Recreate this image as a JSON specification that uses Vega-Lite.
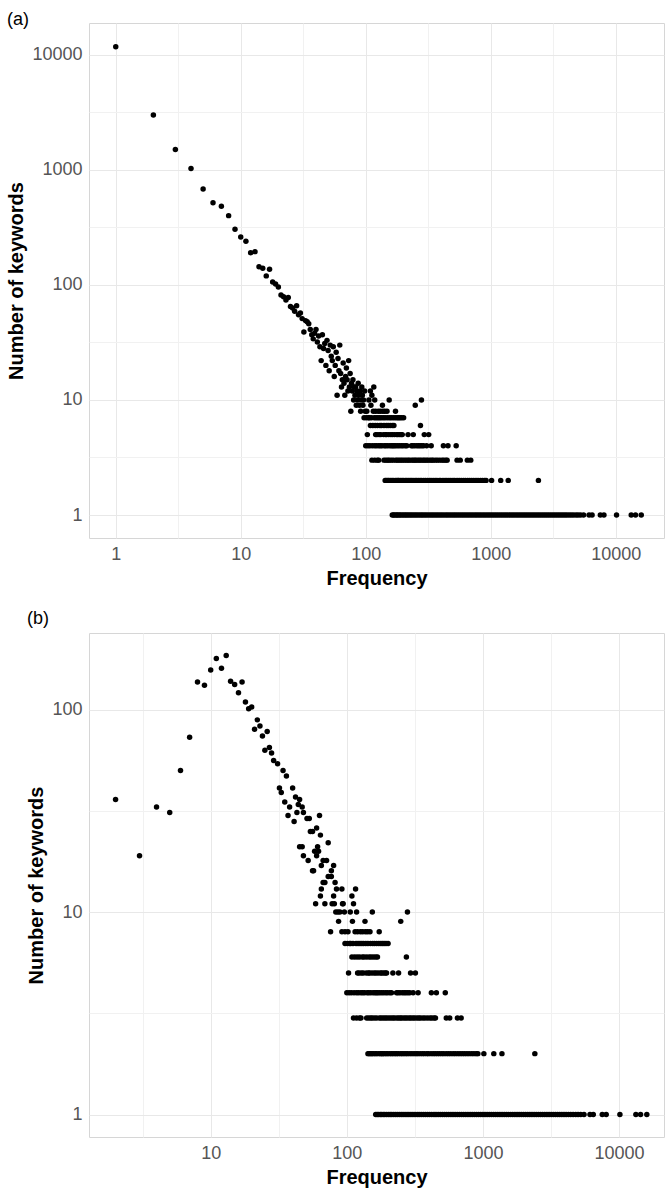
{
  "$schema": "https://vega.github.io/schema/vega-lite/v6.json",
  "background": "white",
  "padding": {"left": 6, "top": 10, "right": 1, "bottom": 2},
  "spacing": 20,
  "config": {
    "view": {"stroke": "#d6d6d6", "strokeWidth": 1},
    "font": "Liberation Sans",
    "axis": {
      "ticks": false,
      "domain": false,
      "labelFont": "Liberation Sans",
      "labelFontSize": 18,
      "labelColor": "#555555",
      "titleFont": "Liberation Sans",
      "titleFontSize": 20,
      "titleFontWeight": "bold",
      "titleColor": "black",
      "labelPadding": 7,
      "titlePadding": 5,
      "labelOverlap": false,
      "labelFlush": false,
      "gridWidth": 1
    },
    "title": {"anchor": "start", "frame": "bounds", "fontSize": 18, "fontWeight": "normal", "font": "Liberation Sans", "color": "black"}
  },
  "datasets": {
    "headA": [
      {"frequency": 1, "keywords": 11800}, {"frequency": 2, "keywords": 3010}, {"frequency": 3, "keywords": 1510}, {"frequency": 4, "keywords": 1030},
      {"frequency": 5, "keywords": 684}, {"frequency": 6, "keywords": 520}, {"frequency": 7, "keywords": 484}, {"frequency": 8, "keywords": 401},
      {"frequency": 9, "keywords": 305}, {"frequency": 10, "keywords": 261}, {"frequency": 11, "keywords": 240}, {"frequency": 12, "keywords": 191},
      {"frequency": 13, "keywords": 195}, {"frequency": 14, "keywords": 144}, {"frequency": 15, "keywords": 140}, {"frequency": 16, "keywords": 120},
      {"frequency": 17, "keywords": 137}, {"frequency": 18, "keywords": 106}, {"frequency": 19, "keywords": 102}, {"frequency": 20, "keywords": 96},
      {"frequency": 21, "keywords": 82}, {"frequency": 22, "keywords": 79}, {"frequency": 23, "keywords": 74}, {"frequency": 24, "keywords": 78},
      {"frequency": 25, "keywords": 65}, {"frequency": 26, "keywords": 63}, {"frequency": 27, "keywords": 59}, {"frequency": 28, "keywords": 66},
      {"frequency": 29, "keywords": 55}, {"frequency": 30, "keywords": 57}, {"frequency": 31, "keywords": 51}, {"frequency": 32, "keywords": 39},
      {"frequency": 33, "keywords": 49}, {"frequency": 34, "keywords": 48}, {"frequency": 35, "keywords": 46}, {"frequency": 36, "keywords": 41},
      {"frequency": 37, "keywords": 37}, {"frequency": 38, "keywords": 34}, {"frequency": 39, "keywords": 38}, {"frequency": 40, "keywords": 41},
      {"frequency": 41, "keywords": 32}, {"frequency": 42, "keywords": 36}, {"frequency": 43, "keywords": 29}, {"frequency": 44, "keywords": 22},
      {"frequency": 45, "keywords": 37}, {"frequency": 46, "keywords": 28}, {"frequency": 47, "keywords": 31}, {"frequency": 48, "keywords": 20},
      {"frequency": 49, "keywords": 33}, {"frequency": 50, "keywords": 27}, {"frequency": 51, "keywords": 18}, {"frequency": 52, "keywords": 30},
      {"frequency": 53, "keywords": 24}, {"frequency": 54, "keywords": 22}, {"frequency": 55, "keywords": 29}, {"frequency": 56, "keywords": 16},
      {"frequency": 57, "keywords": 20}, {"frequency": 58, "keywords": 26}, {"frequency": 59, "keywords": 11}, {"frequency": 60, "keywords": 23},
      {"frequency": 61, "keywords": 18}, {"frequency": 62, "keywords": 30}, {"frequency": 63, "keywords": 17}, {"frequency": 64, "keywords": 13},
      {"frequency": 65, "keywords": 15}, {"frequency": 66, "keywords": 21}, {"frequency": 67, "keywords": 14}, {"frequency": 68, "keywords": 11},
      {"frequency": 69, "keywords": 16}, {"frequency": 70, "keywords": 19}, {"frequency": 71, "keywords": 15}, {"frequency": 72, "keywords": 12},
      {"frequency": 73, "keywords": 22}, {"frequency": 74, "keywords": 13}, {"frequency": 75, "keywords": 17}, {"frequency": 76, "keywords": 8},
      {"frequency": 77, "keywords": 14}, {"frequency": 78, "keywords": 12}, {"frequency": 79, "keywords": 15}, {"frequency": 80, "keywords": 10},
      {"frequency": 81, "keywords": 13}, {"frequency": 82, "keywords": 11}, {"frequency": 83, "keywords": 13}, {"frequency": 84, "keywords": 9},
      {"frequency": 85, "keywords": 12}, {"frequency": 86, "keywords": 10}, {"frequency": 87, "keywords": 14}, {"frequency": 88, "keywords": 11},
      {"frequency": 89, "keywords": 9}, {"frequency": 90, "keywords": 12}, {"frequency": 91, "keywords": 8}, {"frequency": 92, "keywords": 10},
      {"frequency": 93, "keywords": 13}, {"frequency": 94, "keywords": 11}, {"frequency": 95, "keywords": 9}, {"frequency": 96, "keywords": 10},
      {"frequency": 97, "keywords": 7}, {"frequency": 98, "keywords": 12}, {"frequency": 99, "keywords": 8}
    ],
    "headB": [
      {"frequency": 2, "keywords": 36}, {"frequency": 3, "keywords": 19}, {"frequency": 4, "keywords": 33}, {"frequency": 5, "keywords": 31},
      {"frequency": 6, "keywords": 50}, {"frequency": 7, "keywords": 73}, {"frequency": 8, "keywords": 137}, {"frequency": 9, "keywords": 132},
      {"frequency": 10, "keywords": 157}, {"frequency": 11, "keywords": 179}, {"frequency": 12, "keywords": 160}, {"frequency": 13, "keywords": 185},
      {"frequency": 14, "keywords": 138}, {"frequency": 15, "keywords": 133}, {"frequency": 16, "keywords": 121}, {"frequency": 17, "keywords": 137},
      {"frequency": 18, "keywords": 109}, {"frequency": 19, "keywords": 101}, {"frequency": 20, "keywords": 103}, {"frequency": 21, "keywords": 80},
      {"frequency": 22, "keywords": 89}, {"frequency": 23, "keywords": 83}, {"frequency": 24, "keywords": 74}, {"frequency": 25, "keywords": 63},
      {"frequency": 26, "keywords": 78}, {"frequency": 27, "keywords": 65}, {"frequency": 28, "keywords": 61}, {"frequency": 29, "keywords": 56},
      {"frequency": 31, "keywords": 54}, {"frequency": 32, "keywords": 41}, {"frequency": 33, "keywords": 39}, {"frequency": 34, "keywords": 50},
      {"frequency": 35, "keywords": 35}, {"frequency": 36, "keywords": 47}, {"frequency": 37, "keywords": 30}, {"frequency": 38, "keywords": 33},
      {"frequency": 40, "keywords": 41}, {"frequency": 41, "keywords": 28}, {"frequency": 42, "keywords": 37}, {"frequency": 43, "keywords": 31},
      {"frequency": 44, "keywords": 34}, {"frequency": 45, "keywords": 36}, {"frequency": 45, "keywords": 21}, {"frequency": 47, "keywords": 33},
      {"frequency": 47, "keywords": 21}, {"frequency": 48, "keywords": 31}, {"frequency": 48, "keywords": 19}, {"frequency": 51, "keywords": 29},
      {"frequency": 52, "keywords": 18}, {"frequency": 53, "keywords": 29}, {"frequency": 54, "keywords": 25}, {"frequency": 56, "keywords": 25},
      {"frequency": 56, "keywords": 16}, {"frequency": 57, "keywords": 16}, {"frequency": 58, "keywords": 20}, {"frequency": 59, "keywords": 11},
      {"frequency": 60, "keywords": 26}, {"frequency": 60, "keywords": 19}, {"frequency": 61, "keywords": 21}, {"frequency": 62, "keywords": 20},
      {"frequency": 63, "keywords": 30}, {"frequency": 64, "keywords": 24}, {"frequency": 64, "keywords": 12}, {"frequency": 65, "keywords": 17},
      {"frequency": 65, "keywords": 13}, {"frequency": 67, "keywords": 18}, {"frequency": 67, "keywords": 14}, {"frequency": 69, "keywords": 14},
      {"frequency": 69, "keywords": 11}, {"frequency": 71, "keywords": 18}, {"frequency": 73, "keywords": 22}, {"frequency": 73, "keywords": 15},
      {"frequency": 76, "keywords": 8}, {"frequency": 77, "keywords": 16}, {"frequency": 77, "keywords": 15}, {"frequency": 78, "keywords": 11},
      {"frequency": 80, "keywords": 17}, {"frequency": 80, "keywords": 12}, {"frequency": 81, "keywords": 11}, {"frequency": 82, "keywords": 14},
      {"frequency": 83, "keywords": 10}, {"frequency": 84, "keywords": 13}, {"frequency": 86, "keywords": 10}, {"frequency": 87, "keywords": 9},
      {"frequency": 89, "keywords": 10}, {"frequency": 92, "keywords": 13}, {"frequency": 92, "keywords": 8}, {"frequency": 93, "keywords": 11},
      {"frequency": 94, "keywords": 11}, {"frequency": 96, "keywords": 10}, {"frequency": 97, "keywords": 8}, {"frequency": 97, "keywords": 7}
    ],
    "tail": [
      {"frequency": 116, "keywords": 13}, {"frequency": 109, "keywords": 12}, {"frequency": 112, "keywords": 11},
      {"frequency": 106, "keywords": 10}, {"frequency": 118, "keywords": 10}, {"frequency": 154, "keywords": 10}, {"frequency": 279, "keywords": 10},
      {"frequency": 110, "keywords": 9}, {"frequency": 136, "keywords": 9}, {"frequency": 249, "keywords": 9},
      {"frequency": 102, "keywords": 8}, {"frequency": 115, "keywords": 8}, {"frequency": 120, "keywords": 8}, {"frequency": 126, "keywords": 8},
      {"frequency": 131, "keywords": 8}, {"frequency": 137, "keywords": 8}, {"frequency": 142, "keywords": 8}, {"frequency": 148, "keywords": 8}, {"frequency": 173, "keywords": 8},
      {"frequency": 101, "keywords": 7}, {"frequency": 105, "keywords": 7}, {"frequency": 107, "keywords": 7}, {"frequency": 111, "keywords": 7},
      {"frequency": 117, "keywords": 7}, {"frequency": 121, "keywords": 7}, {"frequency": 125, "keywords": 7}, {"frequency": 129, "keywords": 7},
      {"frequency": 133, "keywords": 7}, {"frequency": 138, "keywords": 7}, {"frequency": 143, "keywords": 7}, {"frequency": 149, "keywords": 7},
      {"frequency": 155, "keywords": 7}, {"frequency": 160, "keywords": 7}, {"frequency": 166, "keywords": 7}, {"frequency": 172, "keywords": 7},
      {"frequency": 178, "keywords": 7}, {"frequency": 183, "keywords": 7}, {"frequency": 188, "keywords": 7}, {"frequency": 194, "keywords": 7}, {"frequency": 201, "keywords": 7},
      {"frequency": 109, "keywords": 6}, {"frequency": 114, "keywords": 6}, {"frequency": 119, "keywords": 6}, {"frequency": 124, "keywords": 6},
      {"frequency": 130, "keywords": 6}, {"frequency": 134, "keywords": 6}, {"frequency": 140, "keywords": 6}, {"frequency": 146, "keywords": 6},
      {"frequency": 151, "keywords": 6}, {"frequency": 157, "keywords": 6}, {"frequency": 163, "keywords": 6}, {"frequency": 168, "keywords": 6}, {"frequency": 274, "keywords": 6},
      {"frequency": 103, "keywords": 5}, {"frequency": 120, "keywords": 5}, {"frequency": 123, "keywords": 5}, {"frequency": 128, "keywords": 5},
      {"frequency": 132, "keywords": 5}, {"frequency": 139, "keywords": 5}, {"frequency": 144, "keywords": 5}, {"frequency": 147, "keywords": 5},
      {"frequency": 153, "keywords": 5}, {"frequency": 159, "keywords": 5}, {"frequency": 164, "keywords": 5}, {"frequency": 170, "keywords": 5},
      {"frequency": 177, "keywords": 5}, {"frequency": 181, "keywords": 5}, {"frequency": 187, "keywords": 5}, {"frequency": 192, "keywords": 5},
      {"frequency": 196, "keywords": 5}, {"frequency": 218, "keywords": 5}, {"frequency": 240, "keywords": 5}, {"frequency": 294, "keywords": 5}, {"frequency": 319, "keywords": 5},
      {"frequency": 100, "keywords": 4}, {"frequency": 104, "keywords": 4}, {"frequency": 108, "keywords": 4}, {"frequency": 113, "keywords": 4},
      {"frequency": 118, "keywords": 4}, {"frequency": 122, "keywords": 4}, {"frequency": 127, "keywords": 4}, {"frequency": 131, "keywords": 4},
      {"frequency": 135, "keywords": 4}, {"frequency": 141, "keywords": 4}, {"frequency": 145, "keywords": 4}, {"frequency": 150, "keywords": 4},
      {"frequency": 156, "keywords": 4}, {"frequency": 161, "keywords": 4}, {"frequency": 165, "keywords": 4}, {"frequency": 169, "keywords": 4},
      {"frequency": 174, "keywords": 4}, {"frequency": 180, "keywords": 4}, {"frequency": 186, "keywords": 4}, {"frequency": 193, "keywords": 4},
      {"frequency": 199, "keywords": 4}, {"frequency": 207, "keywords": 4}, {"frequency": 213, "keywords": 4}, {"frequency": 232, "keywords": 4},
      {"frequency": 238, "keywords": 4}, {"frequency": 246, "keywords": 4}, {"frequency": 256, "keywords": 4}, {"frequency": 264, "keywords": 4},
      {"frequency": 272, "keywords": 4}, {"frequency": 281, "keywords": 4}, {"frequency": 290, "keywords": 4}, {"frequency": 307, "keywords": 4},
      {"frequency": 334, "keywords": 4}, {"frequency": 418, "keywords": 4}, {"frequency": 455, "keywords": 4}, {"frequency": 529, "keywords": 4},
      {"frequency": 112, "keywords": 3}, {"frequency": 118, "keywords": 3}, {"frequency": 124, "keywords": 3}, {"frequency": 127, "keywords": 3},
      {"frequency": 140, "keywords": 3}, {"frequency": 145, "keywords": 3}, {"frequency": 150, "keywords": 3}, {"frequency": 154, "keywords": 3},
      {"frequency": 160, "keywords": 3}, {"frequency": 166, "keywords": 3}, {"frequency": 174, "keywords": 3}, {"frequency": 179, "keywords": 3},
      {"frequency": 185, "keywords": 3}, {"frequency": 191, "keywords": 3}, {"frequency": 197, "keywords": 3}, {"frequency": 204, "keywords": 3},
      {"frequency": 211, "keywords": 3}, {"frequency": 218, "keywords": 3}, {"frequency": 224, "keywords": 3}, {"frequency": 233, "keywords": 3},
      {"frequency": 240, "keywords": 3}, {"frequency": 247, "keywords": 3}, {"frequency": 253, "keywords": 3}, {"frequency": 262, "keywords": 3},
      {"frequency": 270, "keywords": 3}, {"frequency": 278, "keywords": 3}, {"frequency": 288, "keywords": 3}, {"frequency": 296, "keywords": 3},
      {"frequency": 306, "keywords": 3}, {"frequency": 315, "keywords": 3}, {"frequency": 327, "keywords": 3}, {"frequency": 338, "keywords": 3},
      {"frequency": 347, "keywords": 3}, {"frequency": 362, "keywords": 3}, {"frequency": 375, "keywords": 3}, {"frequency": 391, "keywords": 3},
      {"frequency": 408, "keywords": 3}, {"frequency": 421, "keywords": 3}, {"frequency": 437, "keywords": 3}, {"frequency": 448, "keywords": 3},
      {"frequency": 538, "keywords": 3}, {"frequency": 570, "keywords": 3}, {"frequency": 650, "keywords": 3}, {"frequency": 692, "keywords": 3},
      {"frequency": 143, "keywords": 2}, {"frequency": 146, "keywords": 2}, {"frequency": 150, "keywords": 2}, {"frequency": 153, "keywords": 2},
      {"frequency": 157, "keywords": 2}, {"frequency": 162, "keywords": 2}, {"frequency": 166, "keywords": 2}, {"frequency": 172, "keywords": 2},
      {"frequency": 177, "keywords": 2}, {"frequency": 181, "keywords": 2}, {"frequency": 184, "keywords": 2}, {"frequency": 189, "keywords": 2},
      {"frequency": 195, "keywords": 2}, {"frequency": 200, "keywords": 2}, {"frequency": 207, "keywords": 2}, {"frequency": 213, "keywords": 2},
      {"frequency": 219, "keywords": 2}, {"frequency": 226, "keywords": 2}, {"frequency": 232, "keywords": 2}, {"frequency": 239, "keywords": 2},
      {"frequency": 248, "keywords": 2}, {"frequency": 255, "keywords": 2}, {"frequency": 263, "keywords": 2}, {"frequency": 272, "keywords": 2},
      {"frequency": 280, "keywords": 2}, {"frequency": 291, "keywords": 2}, {"frequency": 301, "keywords": 2}, {"frequency": 312, "keywords": 2},
      {"frequency": 323, "keywords": 2}, {"frequency": 333, "keywords": 2}, {"frequency": 346, "keywords": 2}, {"frequency": 359, "keywords": 2},
      {"frequency": 371, "keywords": 2}, {"frequency": 387, "keywords": 2}, {"frequency": 398, "keywords": 2}, {"frequency": 415, "keywords": 2},
      {"frequency": 431, "keywords": 2}, {"frequency": 446, "keywords": 2}, {"frequency": 463, "keywords": 2}, {"frequency": 480, "keywords": 2},
      {"frequency": 499, "keywords": 2}, {"frequency": 516, "keywords": 2}, {"frequency": 538, "keywords": 2}, {"frequency": 559, "keywords": 2},
      {"frequency": 581, "keywords": 2}, {"frequency": 605, "keywords": 2}, {"frequency": 627, "keywords": 2}, {"frequency": 654, "keywords": 2},
      {"frequency": 679, "keywords": 2}, {"frequency": 705, "keywords": 2}, {"frequency": 732, "keywords": 2}, {"frequency": 762, "keywords": 2},
      {"frequency": 792, "keywords": 2}, {"frequency": 827, "keywords": 2}, {"frequency": 859, "keywords": 2}, {"frequency": 894, "keywords": 2},
      {"frequency": 918, "keywords": 2}, {"frequency": 1016, "keywords": 2}, {"frequency": 1202, "keywords": 2}, {"frequency": 1380, "keywords": 2},
      {"frequency": 2407, "keywords": 2},
      {"frequency": 163, "keywords": 1}, {"frequency": 167, "keywords": 1}, {"frequency": 171, "keywords": 1}, {"frequency": 176, "keywords": 1},
      {"frequency": 180, "keywords": 1}, {"frequency": 185, "keywords": 1}, {"frequency": 190, "keywords": 1}, {"frequency": 196, "keywords": 1},
      {"frequency": 202, "keywords": 1}, {"frequency": 208, "keywords": 1}, {"frequency": 214, "keywords": 1}, {"frequency": 221, "keywords": 1},
      {"frequency": 228, "keywords": 1}, {"frequency": 235, "keywords": 1}, {"frequency": 243, "keywords": 1}, {"frequency": 251, "keywords": 1},
      {"frequency": 259, "keywords": 1}, {"frequency": 268, "keywords": 1}, {"frequency": 277, "keywords": 1}, {"frequency": 286, "keywords": 1},
      {"frequency": 296, "keywords": 1}, {"frequency": 306, "keywords": 1}, {"frequency": 317, "keywords": 1}, {"frequency": 329, "keywords": 1},
      {"frequency": 340, "keywords": 1}, {"frequency": 352, "keywords": 1}, {"frequency": 365, "keywords": 1}, {"frequency": 378, "keywords": 1},
      {"frequency": 392, "keywords": 1}, {"frequency": 406, "keywords": 1}, {"frequency": 421, "keywords": 1}, {"frequency": 437, "keywords": 1},
      {"frequency": 452, "keywords": 1}, {"frequency": 469, "keywords": 1}, {"frequency": 486, "keywords": 1}, {"frequency": 504, "keywords": 1},
      {"frequency": 522, "keywords": 1}, {"frequency": 541, "keywords": 1}, {"frequency": 561, "keywords": 1}, {"frequency": 582, "keywords": 1},
      {"frequency": 603, "keywords": 1}, {"frequency": 625, "keywords": 1}, {"frequency": 648, "keywords": 1}, {"frequency": 672, "keywords": 1},
      {"frequency": 697, "keywords": 1}, {"frequency": 722, "keywords": 1}, {"frequency": 749, "keywords": 1}, {"frequency": 776, "keywords": 1},
      {"frequency": 805, "keywords": 1}, {"frequency": 834, "keywords": 1}, {"frequency": 865, "keywords": 1}, {"frequency": 897, "keywords": 1},
      {"frequency": 930, "keywords": 1}, {"frequency": 964, "keywords": 1}, {"frequency": 999, "keywords": 1}, {"frequency": 1036, "keywords": 1},
      {"frequency": 1074, "keywords": 1}, {"frequency": 1113, "keywords": 1}, {"frequency": 1154, "keywords": 1}, {"frequency": 1197, "keywords": 1},
      {"frequency": 1241, "keywords": 1}, {"frequency": 1287, "keywords": 1}, {"frequency": 1334, "keywords": 1}, {"frequency": 1383, "keywords": 1},
      {"frequency": 1434, "keywords": 1}, {"frequency": 1487, "keywords": 1}, {"frequency": 1541, "keywords": 1}, {"frequency": 1598, "keywords": 1},
      {"frequency": 1657, "keywords": 1}, {"frequency": 1718, "keywords": 1}, {"frequency": 1781, "keywords": 1}, {"frequency": 1846, "keywords": 1},
      {"frequency": 1914, "keywords": 1}, {"frequency": 1985, "keywords": 1}, {"frequency": 2058, "keywords": 1}, {"frequency": 2134, "keywords": 1},
      {"frequency": 2212, "keywords": 1}, {"frequency": 2293, "keywords": 1}, {"frequency": 2378, "keywords": 1}, {"frequency": 2465, "keywords": 1},
      {"frequency": 2556, "keywords": 1}, {"frequency": 2650, "keywords": 1}, {"frequency": 2747, "keywords": 1}, {"frequency": 2848, "keywords": 1},
      {"frequency": 2953, "keywords": 1}, {"frequency": 3061, "keywords": 1}, {"frequency": 3174, "keywords": 1}, {"frequency": 3290, "keywords": 1},
      {"frequency": 3411, "keywords": 1}, {"frequency": 3537, "keywords": 1}, {"frequency": 3667, "keywords": 1}, {"frequency": 3801, "keywords": 1},
      {"frequency": 3941, "keywords": 1}, {"frequency": 4086, "keywords": 1}, {"frequency": 4250, "keywords": 1}, {"frequency": 4420, "keywords": 1},
      {"frequency": 4600, "keywords": 1}, {"frequency": 4810, "keywords": 1}, {"frequency": 5000, "keywords": 1}, {"frequency": 5230, "keywords": 1},
      {"frequency": 5530, "keywords": 1}, {"frequency": 6120, "keywords": 1}, {"frequency": 6470, "keywords": 1}, {"frequency": 7530, "keywords": 1},
      {"frequency": 8050, "keywords": 1}, {"frequency": 10150, "keywords": 1}, {"frequency": 13300, "keywords": 1}, {"frequency": 14400, "keywords": 1},
      {"frequency": 16000, "keywords": 1}
    ]
  },
  "vconcat": [
    {
      "title": {"text": "(a)", "offset": -6},
      "width": 575,
      "height": 515,
      "encoding": {
        "x": {
          "field": "frequency", "type": "quantitative", "title": "Frequency",
          "scale": {"type": "log", "domain": [0.611, 24330], "nice": false, "zero": false},
          "axis": {
            "values": [1, 3.1623, 10, 31.623, 100, 316.23, 1000, 3162.3, 10000],
            "labelExpr": "abs(log(datum.value)/LN10 - round(log(datum.value)/LN10)) < 0.01 ? format(datum.value, 'd') : ''",
            "gridColor": {"condition": {"test": "abs(log(datum.value)/LN10 - round(log(datum.value)/LN10)) < 0.01", "value": "#e8e8e8"}, "value": "#f1f1f1"}
          }
        },
        "y": {
          "field": "keywords", "type": "quantitative", "title": "Number of keywords",
          "scale": {"type": "log", "domain": [0.631, 18970], "nice": false, "zero": false},
          "axis": {
            "values": [1, 3.1623, 10, 31.623, 100, 316.23, 1000, 3162.3, 10000],
            "labelExpr": "abs(log(datum.value)/LN10 - round(log(datum.value)/LN10)) < 0.01 ? format(datum.value, 'd') : ''",
            "gridColor": {"condition": {"test": "abs(log(datum.value)/LN10 - round(log(datum.value)/LN10)) < 0.01", "value": "#e8e8e8"}, "value": "#f1f1f1"}
          }
        }
      },
      "layer": [
        {"data": {"name": "headA"}, "mark": {"type": "circle", "color": "black", "opacity": 1, "size": 30}},
        {"data": {"name": "tail"}, "mark": {"type": "circle", "color": "black", "opacity": 1, "size": 30}}
      ]
    },
    {
      "title": {"text": "(b)", "offset": 5},
      "width": 575,
      "height": 504,
      "encoding": {
        "x": {
          "field": "frequency", "type": "quantitative", "title": "Frequency",
          "scale": {"type": "log", "domain": [1.276, 21400], "nice": false, "zero": false},
          "axis": {
            "values": [3.1623, 10, 31.623, 100, 316.23, 1000, 3162.3, 10000],
            "labelExpr": "abs(log(datum.value)/LN10 - round(log(datum.value)/LN10)) < 0.01 ? format(datum.value, 'd') : ''",
            "gridColor": {"condition": {"test": "abs(log(datum.value)/LN10 - round(log(datum.value)/LN10)) < 0.01", "value": "#e8e8e8"}, "value": "#f1f1f1"}
          }
        },
        "y": {
          "field": "keywords", "type": "quantitative", "title": "Number of keywords",
          "scale": {"type": "log", "domain": [0.775, 239], "nice": false, "zero": false},
          "axis": {
            "values": [1, 3.1623, 10, 31.623, 100],
            "labelExpr": "abs(log(datum.value)/LN10 - round(log(datum.value)/LN10)) < 0.01 ? format(datum.value, 'd') : ''",
            "gridColor": {"condition": {"test": "abs(log(datum.value)/LN10 - round(log(datum.value)/LN10)) < 0.01", "value": "#e8e8e8"}, "value": "#f1f1f1"}
          }
        }
      },
      "layer": [
        {"data": {"name": "headB"}, "mark": {"type": "circle", "color": "black", "opacity": 1, "size": 30}},
        {"data": {"name": "tail"}, "mark": {"type": "circle", "color": "black", "opacity": 1, "size": 30}}
      ]
    }
  ]
}
